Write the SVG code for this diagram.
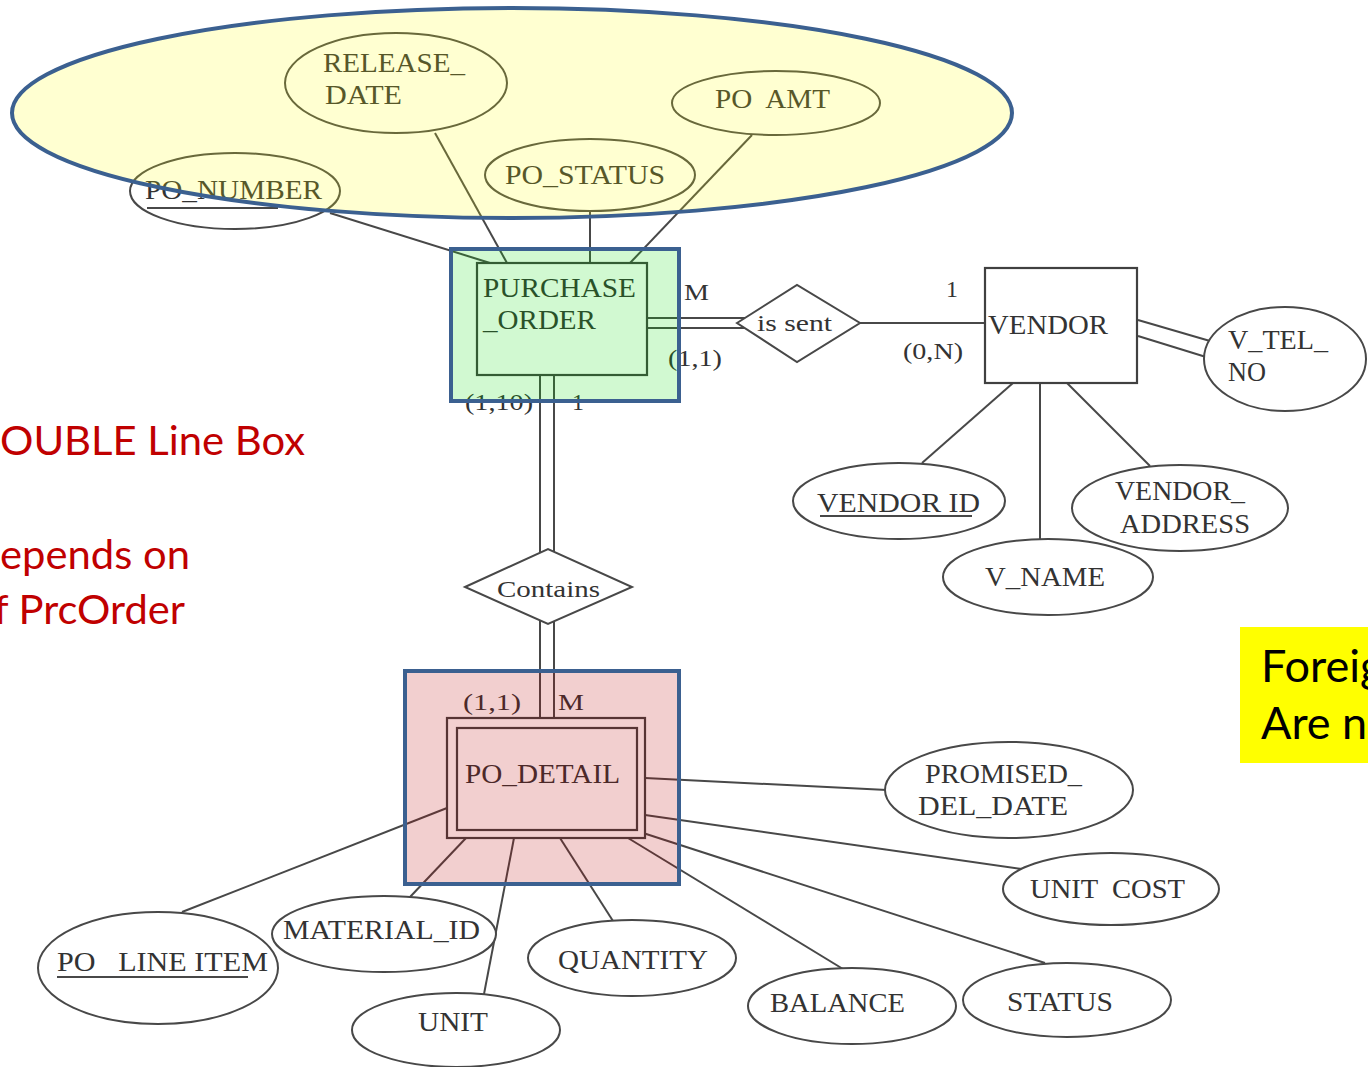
<svg xmlns="http://www.w3.org/2000/svg" width="1368" height="1067" viewBox="0 0 1368 1067">
  <style>
    .lbl { font-family: "Liberation Serif", "DejaVu Serif", serif; font-size: 27px; fill: #333; white-space: pre; }
    .sm { font-size: 24px; }
    .attr { fill: #fff; stroke: #484848; stroke-width: 2; }
    .ent { fill: #fff; stroke: #404040; stroke-width: 2.2; }
    .rel { fill: #fff; stroke: #484848; stroke-width: 2; }
    .ln { stroke: #484848; stroke-width: 2; fill: none; }
    .frame { stroke: #3b6090; stroke-width: 4; }
    .note { font-family: "Lato", "Open Sans", "Liberation Sans", sans-serif; white-space: pre; }
  </style>

  <rect x="0" y="0" width="1368" height="1067" fill="#fff"/>

  <!-- connectors -->
  <g id="connectors" class="ln">
    <!-- purchase order attributes -->
    <line x1="330" y1="213" x2="490" y2="263"/>
    <line x1="435" y1="133" x2="507" y2="263"/>
    <line x1="590" y1="211" x2="590" y2="263"/>
    <line x1="752" y1="135" x2="630" y2="263"/>
    <!-- purchase order to is sent (double) -->
    <line x1="647" y1="318" x2="745" y2="318"/>
    <line x1="647" y1="328" x2="745" y2="328"/>
    <!-- is sent to vendor -->
    <line x1="860" y1="323" x2="985" y2="323"/>
    <!-- vendor attributes -->
    <line x1="1138" y1="320" x2="1210" y2="341"/>
    <line x1="1138" y1="336" x2="1206" y2="357"/>
    <line x1="1013" y1="383" x2="922" y2="463"/>
    <line x1="1040" y1="383" x2="1040" y2="540"/>
    <line x1="1067" y1="383" x2="1150" y2="466"/>
    <!-- purchase order to contains (double) -->
    <line x1="540" y1="375" x2="540" y2="553"/>
    <line x1="554" y1="375" x2="554" y2="553"/>
    <!-- contains to po detail (double) -->
    <line x1="540" y1="621" x2="540" y2="718"/>
    <line x1="554" y1="621" x2="554" y2="718"/>
    <!-- po detail attributes -->
    <line x1="447" y1="808" x2="182" y2="912"/>
    <line x1="466" y1="838" x2="410" y2="897"/>
    <line x1="514" y1="838" x2="484" y2="994"/>
    <line x1="560" y1="838" x2="613" y2="921"/>
    <line x1="628" y1="838" x2="843" y2="969"/>
    <line x1="640" y1="832" x2="1045" y2="963"/>
    <line x1="645" y1="815" x2="1022" y2="869"/>
    <line x1="645" y1="778" x2="887" y2="790"/>
  </g>

  <!-- purchase order attributes -->
  <g id="release-date">
    <ellipse class="attr" cx="396" cy="83" rx="111" ry="50"/>
    <text class="lbl" x="323" y="72" textLength="142" lengthAdjust="spacingAndGlyphs">RELEASE_</text>
    <text class="lbl" x="325" y="104" textLength="77" lengthAdjust="spacingAndGlyphs">DATE</text>
  </g>
  <g id="po-amt">
    <ellipse class="attr" cx="776" cy="103" rx="104" ry="32"/>
    <text class="lbl" x="715" y="108" textLength="115" lengthAdjust="spacingAndGlyphs">PO  AMT</text>
  </g>
  <g id="po-status">
    <ellipse class="attr" cx="590" cy="175" rx="105" ry="36"/>
    <text class="lbl" x="505" y="184" textLength="160" lengthAdjust="spacingAndGlyphs">PO_STATUS</text>
  </g>
  <g id="po-number">
    <ellipse class="attr" cx="235" cy="191" rx="105" ry="38"/>
    <text class="lbl" x="145" y="199" textLength="177" lengthAdjust="spacingAndGlyphs">PO_NUMBER</text>
    <line class="ln" x1="147" y1="208" x2="278" y2="208"/>
  </g>

  <!-- purchase order entity -->
  <g id="purchase-order">
    <rect class="ent" x="477" y="263" width="170" height="112"/>
    <text class="lbl" x="483" y="297" textLength="153" lengthAdjust="spacingAndGlyphs">PURCHASE</text>
    <text class="lbl" x="483" y="329" textLength="113" lengthAdjust="spacingAndGlyphs">_ORDER</text>
  </g>

  <!-- is sent relationship -->
  <g id="is-sent">
    <polygon class="rel" points="737,323 797,285 860,323 797,362"/>
    <text class="lbl sm" x="757" y="331" textLength="75" lengthAdjust="spacingAndGlyphs">is sent</text>
  </g>
  <g id="cardinality-is-sent">
    <text class="lbl sm" x="684" y="300" textLength="25" lengthAdjust="spacingAndGlyphs">M</text>
    <text class="lbl sm" x="946" y="297">1</text>
    <text class="lbl sm" x="668" y="366" textLength="54" lengthAdjust="spacingAndGlyphs">(1,1)</text>
    <text class="lbl sm" x="903" y="359" textLength="60" lengthAdjust="spacingAndGlyphs">(0,N)</text>
  </g>

  <!-- vendor entity -->
  <g id="vendor">
    <rect class="ent" x="985" y="268" width="152" height="115"/>
    <text class="lbl" x="988" y="334" textLength="120" lengthAdjust="spacingAndGlyphs">VENDOR</text>
  </g>
  <g id="v-tel-no">
    <ellipse class="attr" cx="1285" cy="359" rx="81" ry="52"/>
    <text class="lbl" x="1228" y="349" textLength="100" lengthAdjust="spacingAndGlyphs">V_TEL_</text>
    <text class="lbl" x="1228" y="381" textLength="38" lengthAdjust="spacingAndGlyphs">NO</text>
  </g>
  <g id="vendor-id">
    <ellipse class="attr" cx="899" cy="501" rx="106" ry="38"/>
    <text class="lbl" x="817" y="512" textLength="163" lengthAdjust="spacingAndGlyphs">VENDOR ID</text>
    <line class="ln" x1="820" y1="516" x2="972" y2="516"/>
  </g>
  <g id="v-name">
    <ellipse class="attr" cx="1048" cy="577" rx="105" ry="38"/>
    <text class="lbl" x="985" y="586" textLength="120" lengthAdjust="spacingAndGlyphs">V_NAME</text>
  </g>
  <g id="vendor-address">
    <ellipse class="attr" cx="1180" cy="508" rx="108" ry="43"/>
    <text class="lbl" x="1115" y="500" textLength="130" lengthAdjust="spacingAndGlyphs">VENDOR_</text>
    <text class="lbl" x="1120" y="533" textLength="130" lengthAdjust="spacingAndGlyphs">ADDRESS</text>
  </g>

  <!-- contains relationship -->
  <g id="contains">
    <polygon class="rel" points="465,587 548,549 632,587 548,624"/>
    <text class="lbl sm" x="497" y="597" textLength="103" lengthAdjust="spacingAndGlyphs">Contains</text>
  </g>
  <g id="cardinality-contains">
    <text class="lbl sm" x="465" y="410" textLength="68" lengthAdjust="spacingAndGlyphs">(1,10)</text>
    <text class="lbl sm" x="572" y="410">1</text>
    <text class="lbl sm" x="463" y="710" textLength="58" lengthAdjust="spacingAndGlyphs">(1,1)</text>
    <text class="lbl sm" x="558" y="710" textLength="26" lengthAdjust="spacingAndGlyphs">M</text>
  </g>

  <!-- po detail weak entity -->
  <g id="po-detail">
    <rect class="ent" x="447" y="718" width="198" height="120"/>
    <rect class="ent" x="457" y="728" width="180" height="102"/>
    <text class="lbl" x="465" y="783" textLength="155" lengthAdjust="spacingAndGlyphs">PO_DETAIL</text>
  </g>
  <g id="promised-del-date">
    <ellipse class="attr" cx="1009" cy="790" rx="124" ry="48"/>
    <text class="lbl" x="925" y="783" textLength="157" lengthAdjust="spacingAndGlyphs">PROMISED_</text>
    <text class="lbl" x="918" y="815" textLength="150" lengthAdjust="spacingAndGlyphs">DEL_DATE</text>
  </g>
  <g id="unit-cost">
    <ellipse class="attr" cx="1111" cy="889" rx="108" ry="36"/>
    <text class="lbl" x="1030" y="898" textLength="155" lengthAdjust="spacingAndGlyphs">UNIT  COST</text>
  </g>
  <g id="status">
    <ellipse class="attr" cx="1067" cy="1000" rx="104" ry="37"/>
    <text class="lbl" x="1007" y="1011" textLength="106" lengthAdjust="spacingAndGlyphs">STATUS</text>
  </g>
  <g id="balance">
    <ellipse class="attr" cx="852" cy="1006" rx="104" ry="38"/>
    <text class="lbl" x="770" y="1012" textLength="135" lengthAdjust="spacingAndGlyphs">BALANCE</text>
  </g>
  <g id="quantity">
    <ellipse class="attr" cx="632" cy="958" rx="104" ry="38"/>
    <text class="lbl" x="558" y="969" textLength="150" lengthAdjust="spacingAndGlyphs">QUANTITY</text>
  </g>
  <g id="unit">
    <ellipse class="attr" cx="456" cy="1030" rx="104" ry="37"/>
    <text class="lbl" x="418" y="1031" textLength="70" lengthAdjust="spacingAndGlyphs">UNIT</text>
  </g>
  <g id="material-id">
    <ellipse class="attr" cx="384" cy="934" rx="112" ry="38"/>
    <text class="lbl" x="283" y="939" textLength="197" lengthAdjust="spacingAndGlyphs">MATERIAL_ID</text>
  </g>
  <g id="po-line-item">
    <ellipse class="attr" cx="158" cy="968" rx="120" ry="56"/>
    <text class="lbl" x="57" y="971" textLength="211" lengthAdjust="spacingAndGlyphs">PO   LINE ITEM</text>
    <line class="ln" x1="57" y1="977" x2="248" y2="977"/>
  </g>

  <!-- highlight overlays -->
  <g id="highlight-po-attributes">
    <ellipse cx="512" cy="113" rx="500" ry="105" fill="#ffff00" fill-opacity="0.18" class="frame"/>
  </g>
  <g id="highlight-purchase-order">
    <rect x="451" y="249" width="228" height="152" fill="#00e000" fill-opacity="0.18" class="frame"/>
  </g>
  <g id="highlight-po-detail">
    <rect x="405" y="671" width="274" height="213" fill="#ba0000" fill-opacity="0.19" class="frame"/>
  </g>

  <!-- side notes -->
  <g id="note-weak-entity" class="note" fill="#c00000" font-size="40">
    <text x="0" y="455" textLength="305" lengthAdjust="spacingAndGlyphs">OUBLE Line Box</text>
    <text x="0" y="569" textLength="190" lengthAdjust="spacingAndGlyphs">epends on</text>
    <text x="-6" y="624" textLength="191" lengthAdjust="spacingAndGlyphs">f PrcOrder</text>
  </g>
  <g id="note-foreign-keys">
    <rect x="1240" y="627" width="140" height="136" fill="#ffff00"/>
    <text class="note" x="1261" y="682" font-size="45" fill="#000">Foreig</text>
    <text class="note" x="1261" y="739" font-size="45" fill="#000">Are no</text>
  </g>
</svg>
